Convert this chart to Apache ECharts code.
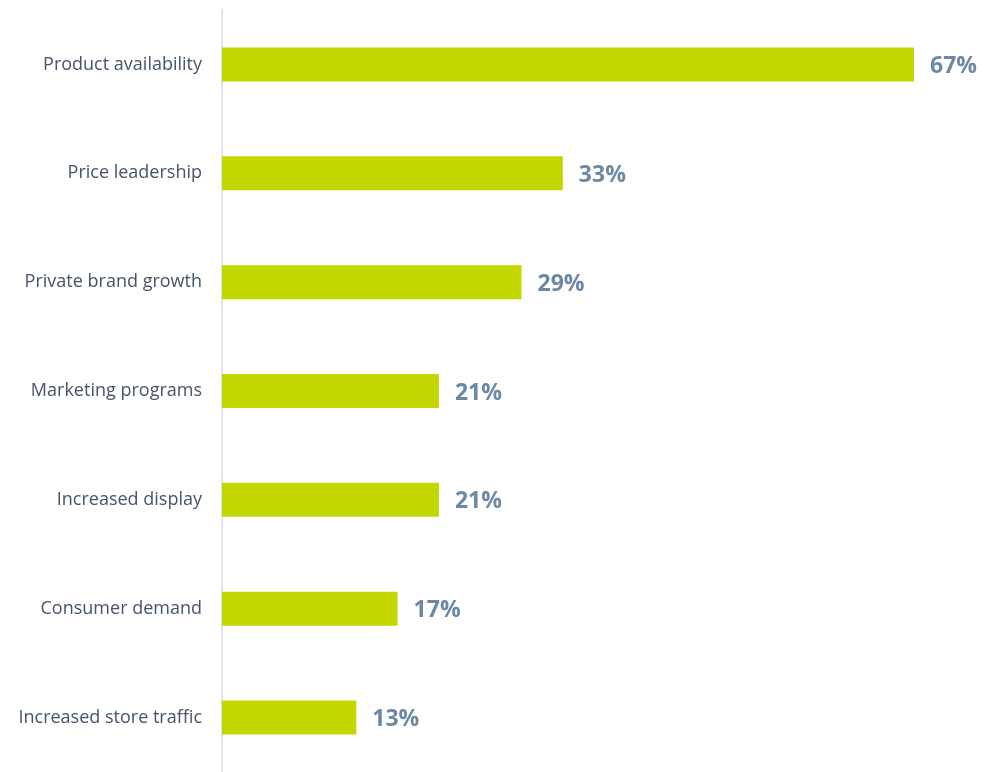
<!DOCTYPE html>
<html>
<head>
<meta charset="utf-8">
<style>
  html, body { margin: 0; padding: 0; background: #ffffff; }
  #chart { width: 984px; height: 772px; }
</style>
<script src="https://cdn.jsdelivr.net/npm/echarts@6/dist/echarts.min.js"></script>
</head>
<body>
<div id="chart"></div>
<script>
// Reasons cited, top to bottom
const categories = [
  'Product availability',
  'Price leadership',
  'Private brand growth',
  'Marketing programs',
  'Increased display',
  'Consumer demand',
  'Increased store traffic'
];
// Share of respondents (%)
const values = [67, 33, 29, 21, 21, 17, 13];

const chart = echarts.init(document.getElementById('chart'), null, { renderer: 'canvas' });

chart.setOption({
  animation: false,
  backgroundColor: '#ffffff',
  grid: { left: 222, top: 10, width: 692, height: 770, containLabel: false },
  xAxis: {
    type: 'value',
    min: 0,
    max: 67,
    show: false
  },
  yAxis: {
    type: 'category',
    inverse: true,
    data: categories,
    axisLine: { show: true, lineStyle: { color: '#e1e5ec', width: 2 } },
    axisTick: { show: false },
    axisLabel: {
      margin: 20,
      color: '#44546a',
      fontFamily: 'Open Sans, Noto Sans, sans-serif',
      fontSize: 18
    }
  },
  series: [{
    type: 'bar',
    data: values,
    barWidth: 34,
    itemStyle: { color: '#c4d600' },
    label: {
      show: true,
      position: 'right',
      distance: 16,
      offset: [0, 2],
      formatter: '{c}%',
      color: '#6b88a4',
      fontFamily: 'Open Sans, Noto Sans, sans-serif',
      fontWeight: 'bold',
      fontSize: 23
    }
  }]
});
</script>
</body>
</html>
